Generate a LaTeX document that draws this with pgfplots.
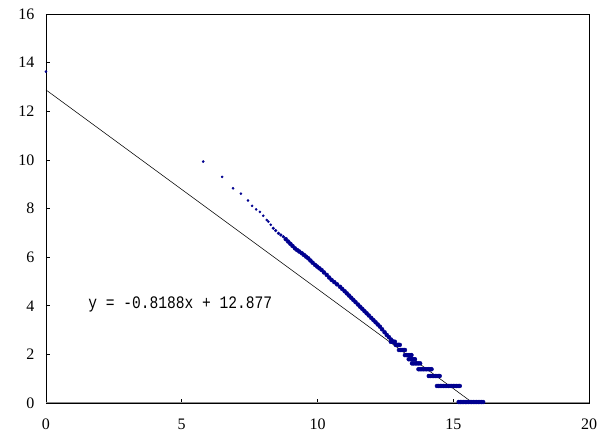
\documentclass[border=0pt]{standalone}
\usepackage{pgfplots}
\pgfplotsset{compat=1.18}
\usepackage{fontspec}
\setmainfont{Liberation Serif}
\newfontfamily\eqfont{Liberation Mono}
\usepackage{graphicx}
\definecolor{dotblue}{rgb}{0.0,0.0,0.56}
\begin{document}
\begin{tikzpicture}
\path (-46pt,-31pt) rectangle (560pt,403pt);
\begin{axis}[
  at={(0,0)}, anchor=south west,
  scale only axis, width=543pt, height=389pt,
  xmin=0, xmax=20, ymin=0, ymax=16,
  xtick={0,5,...,20}, ytick={0,2,...,16},
  xtick pos=bottom, ytick pos=left,
  tick align=inside, major tick length=4pt,
  tick style={black, line width=0.6pt},
  axis line style={black, line width=0.7pt},
  ticklabel style={font=\fontsize{16}{18}\selectfont},
  /pgf/number format/assume math mode=true,
  yticklabel style={xshift=-8pt},
  xticklabel style={yshift=-12pt},
  clip mode=individual,
]
\draw[gray!90, line width=1pt] (axis cs:0,0) -- (axis cs:20,0);
% trendline
\addplot[black, line width=0.55pt, no marks] coordinates {(0,12.877) (15.727,0)};
% sparse points
\addplot[only marks, mark=*, mark size=1.1pt, color=dotblue] coordinates {
(0,13.63) (5.79,9.93) (6.49,9.30) (6.89,8.83) (7.18,8.61) (7.44,8.33) (7.59,8.11)
(7.74,7.96) (7.88,7.86) (8.00,7.70) (8.13,7.53) (8.19,7.46) (8.28,7.33)
};
% transition points
\addplot[only marks, mark=*, mark size=1.4pt, color=dotblue] coordinates {
(8.37,7.19) (8.46,7.09) (8.56,6.98) (8.65,6.91) (8.74,6.84)
};
% dense points
\addplot[only marks, mark=*, mark size=2pt, color=dotblue] coordinates {
(8.83,6.74) (8.92,6.64)
(9.00,6.55) (9.08,6.46) (9.17,6.36) (9.25,6.29) (9.33,6.23) (9.42,6.16) (9.50,6.09)
(9.58,6.02) (9.66,5.95) (9.74,5.86) (9.82,5.77) (9.91,5.68) (9.99,5.61) (10.07,5.54)
(10.15,5.47) (10.24,5.37) (10.34,5.27) (10.43,5.16) (10.52,5.06) (10.62,4.97) (10.72,4.88)
(10.83,4.78) (10.91,4.69) (11.00,4.60) (11.08,4.51) (11.16,4.42) (11.24,4.33) (11.32,4.24)
(11.40,4.15) (11.49,4.05) (11.57,3.96) (11.65,3.87) (11.73,3.78) (11.81,3.69) (11.89,3.60)
(11.98,3.50) (12.06,3.41) (12.14,3.32) (12.22,3.23) (12.30,3.14) (12.38,3.03) (12.47,2.91)
(12.55,2.80) (12.63,2.71) (12.71,2.61) (12.79,2.52)
(12.70,2.52) (12.75,2.52) (12.80,2.52) (12.85,2.52)
(12.88,2.39) (12.93,2.39) (12.98,2.39) (13.03,2.39)
(13.00,2.18) (13.06,2.18) (13.12,2.18) (13.18,2.18) (13.22,2.18)
(13.22,1.97) (13.28,1.97) (13.34,1.97) (13.40,1.97) (13.46,1.97)
(13.36,1.80) (13.42,1.80) (13.48,1.80) (13.54,1.80) (13.59,1.80)
(13.48,1.63) (13.54,1.63) (13.60,1.63) (13.66,1.63) (13.72,1.63) (13.78,1.63)
(13.72,1.39) (13.78,1.39) (13.84,1.39) (13.90,1.39) (13.96,1.39) (14.02,1.39) (14.08,1.39) (14.14,1.39) (14.20,1.39)
(14.10,1.11) (14.16,1.11) (14.22,1.11) (14.28,1.11) (14.34,1.11) (14.40,1.11) (14.46,1.11) (14.50,1.11)
(14.40,0.70) (14.46,0.70) (14.52,0.70) (14.58,0.70) (14.64,0.70) (14.70,0.70) (14.76,0.70) (14.82,0.70)
(14.88,0.70) (14.94,0.70) (15.00,0.70) (15.06,0.70) (15.12,0.70) (15.18,0.70) (15.24,0.70)
(15.20,0.04) (15.26,0.04) (15.32,0.04) (15.38,0.04) (15.44,0.04) (15.50,0.04) (15.56,0.04) (15.62,0.04)
(15.68,0.04) (15.74,0.04) (15.80,0.04) (15.86,0.04) (15.92,0.04) (15.98,0.04) (16.04,0.04) (16.10,0.04)
};
\node[anchor=west, inner sep=0pt] at (axis cs:1.55,4.07) {\scalebox{1}[1.2]{\eqfont\fontsize{14.6}{16}\selectfont y = -0.8188x + 12.877}};
\end{axis}
\end{tikzpicture}
\end{document}
